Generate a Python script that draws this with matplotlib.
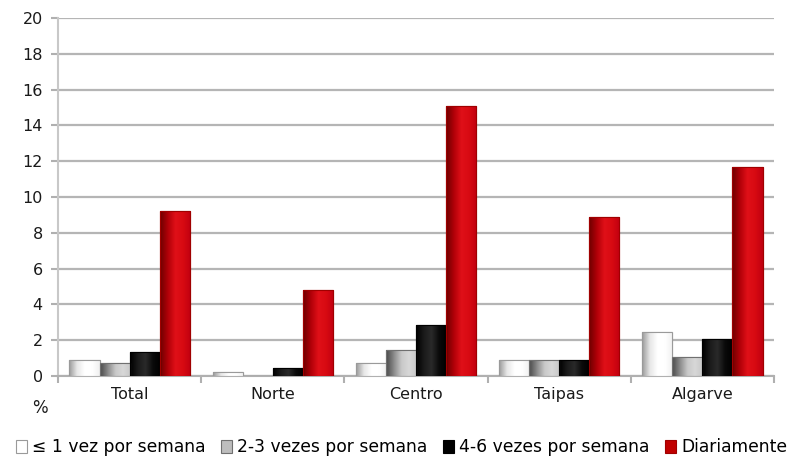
import numpy as np
import matplotlib
matplotlib.use("Agg")
import matplotlib.pyplot as plt
from matplotlib.colors import LinearSegmentedColormap
from matplotlib.patches import Patch

categories = ["Total", "Norte", "Centro", "Taipas", "Algarve"]
series_names = ["≤ 1 vez por semana", "2-3 vezes por semana", "4-6 vezes por semana", "Diariamente"]
v_le1 = [0.9, 0.2, 0.75, 0.9, 2.45]
v_2_3 = [0.75, 0.0, 1.45, 0.9, 1.05]
v_4_6 = [1.35, 0.45, 2.85, 0.9, 2.05]
v_diar = [9.2, 4.8, 15.1, 8.9, 11.7]
series_values = [v_le1, v_2_3, v_4_6, v_diar]
yticks = [0, 2, 4, 6, 8, 10, 12, 14, 16, 18, 20]

face = ["#ffffff", "#bdbdbd", "#000000", "#c00000"]
edge = ["#9a9a9a", "#707070", "#000000", "#a00000"]
grads = [
    ["#9a9a9a", "#e6e6e6", "#ffffff", "#ffffff", "#f0f0f0"],
    ["#4a4a4a", "#8a8a8a", "#c8c8c8", "#d8d8d8", "#c8c8c8"],
    ["#000000", "#1a1a1a", "#2a2a2a", "#0a0a0a", "#000000"],
    ["#6e0000", "#b00008", "#e01018", "#d80a12", "#c00010"],
]

plt.rcParams['font.family'] = ['DejaVu Sans']

fig = plt.figure(figsize=(8.03, 4.59), dpi=100)
ax = fig.add_axes([58/803, 1-376/459, (774-58)/803, (376-18)/459])

x = np.arange(len(categories))
bw = 0.21
n = len(series_values)
for i, vals in enumerate(series_values):
    offs = (i - (n-1)/2) * bw
    bars = ax.bar(x + offs, vals, bw, color=face[i], edgecolor=edge[i], linewidth=0.8, zorder=3)
    cmap = LinearSegmentedColormap.from_list("g%d" % i, grads[i])
    grad = np.linspace(0, 1, 64).reshape(1, -1)
    for b in bars:
        h = b.get_height()
        if h <= 0:
            continue
        im = ax.imshow(grad, cmap=cmap, aspect='auto',
                       extent=[b.get_x(), b.get_x()+b.get_width(), 0, h],
                       zorder=3.5, interpolation='bilinear')
        im.set_clip_path(b)
    # redraw outlines above gradient
    for b in bars:
        if b.get_height() > 0:
            ax.bar(b.get_x(), b.get_height(), b.get_width(), align='edge',
                   fill=False, edgecolor=edge[i], linewidth=0.8, zorder=4)

ax.set_xlim(-0.5, len(categories)-0.5)
ax.set_ylim(0, 20)
ax.set_yticks(yticks)
ax.set_yticklabels([str(t) for t in yticks], fontsize=11.5, color="#1a1a1a")
ax.yaxis.grid(True, color="#b5b5b5", linewidth=1.6, zorder=0)
ax.set_axisbelow(True)

ax.set_xticks(np.arange(len(categories)+1) - 0.5)
ax.set_xticklabels([])
ax.set_xticks(x, minor=True)
ax.set_xticklabels(categories, minor=True, fontsize=11.5, color="#1a1a1a")
ax.tick_params(axis='x', which='minor', length=0, pad=8)
ax.tick_params(axis='x', which='major', length=5, color="#b0b0b0", width=1.5, direction='out')
ax.tick_params(axis='y', length=5, color="#b0b0b0", width=1.5, pad=6)

for s in ["top", "right"]:
    ax.spines[s].set_visible(False)
ax.spines["left"].set_color("#c8c8c8")
ax.spines["left"].set_linewidth(1.5)
ax.spines["bottom"].set_color("#b0b0b0")
ax.spines["bottom"].set_linewidth(1.5)

fig.text(40/803, 1-408/459, "%", fontsize=12, color="#1a1a1a", ha="center", va="center")

handles = [Patch(facecolor=face[i], edgecolor=edge[i], linewidth=0.8) for i in range(n)]
fig.legend(handles, series_names, loc="center", bbox_to_anchor=(0.5, 1-447/459), ncol=4,
           frameon=False, fontsize=12.3, handlelength=0.65, handleheight=0.8,
           handletextpad=0.3, columnspacing=0.9, borderaxespad=0)

fig.savefig("out.png", dpi=100)
